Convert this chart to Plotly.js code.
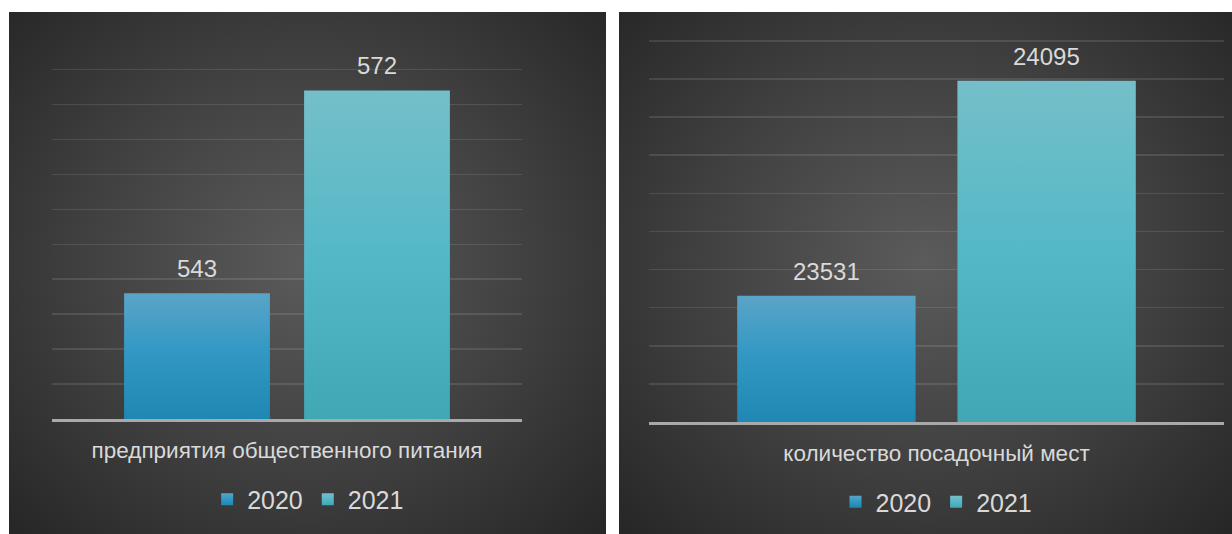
<!DOCTYPE html>
<html>
<head>
<meta charset="utf-8">
<script src="https://cdn.plot.ly/plotly-3.0.1.min.js"></script>
<style>
  html, body { margin: 0; padding: 0; background: #ffffff; width: 1232px; height: 534px; overflow: hidden; }
  .panel { position: absolute; background: radial-gradient(ellipse farthest-corner at 50% 48%, #5b5b5b 0%, #3f3f3f 55%, #262626 100%); }
  #left { left: 9px; top: 12px; width: 597px; height: 522px; }
  #right { left: 619px; top: 12px; width: 613px; height: 522px; }
</style>
</head>
<body>
<div id="left" class="panel"></div>
<div id="right" class="panel"></div>
<script>
// ---- data ----
const seriesNames = ['2020', '2021'];
const leftCategories = ['предприятия общественного питания'];
const leftValues2020 = [543];
const leftValues2021 = [572];
const rightCategories = ['количество посадочный мест'];
const rightValues2020 = [23531];
const rightValues2021 = [24095];
const leftAxisRange = [525, 575];
const leftAxisStep = 5;
const rightAxisRange = [23200, 24200];
const rightAxisStep = 100;

// ---- styles ----
const colors = ['#3093c0', '#54b4c2'];
const gradientStops = [
  [[0, '#5ba4c8'], [0.45, '#3399c4'], [1, '#1f87b3']],
  [[0, '#74bfc9'], [0.5, '#55b8c7'], [1, '#41a7b3']]
];
const textColor = '#d9d9d9';
const fontFamily = 'Liberation Sans, Arial, sans-serif';
const bargap = 0.234;
const bargroupgap = 0.19;
const rangePad = 0.1; // fraction of a step above the top gridline

let gradCount = 0;
function gradientFor(path, stops, defs, maxY) {
  const ns = 'http://www.w3.org/2000/svg';
  const bb = path.getBBox();
  const y1 = bb.y;
  const y2 = Math.max(y1 + 1, Math.min(bb.y + bb.height, maxY));
  const id = 'bargrad' + (gradCount++);
  const g = document.createElementNS(ns, 'linearGradient');
  g.setAttribute('id', id);
  g.setAttribute('gradientUnits', 'userSpaceOnUse');
  g.setAttribute('x1', String(bb.x)); g.setAttribute('x2', String(bb.x));
  g.setAttribute('y1', String(y1)); g.setAttribute('y2', String(y2));
  stops.forEach(s => {
    const st = document.createElementNS(ns, 'stop');
    st.setAttribute('offset', String(s[0]));
    st.setAttribute('stop-color', s[1]);
    g.appendChild(st);
  });
  defs.appendChild(g);
  path.style.fill = 'url(#' + id + ')';
}

function applyGradients(div) {
  const ns = 'http://www.w3.org/2000/svg';
  const plotH = div._fullLayout._size.h;
  div.querySelectorAll('svg.main-svg').forEach(svg => {
    const defs = document.createElementNS(ns, 'defs');
    svg.insertBefore(defs, svg.firstChild);
    svg.querySelectorAll('.barlayer .trace').forEach((t, i) => {
      t.querySelectorAll('.point path').forEach(p => gradientFor(p, gradientStops[i % 2], defs, plotH));
    });
    svg.querySelectorAll('.legend .traces').forEach((t, i) => {
      t.querySelectorAll('.legendpoints path').forEach(p => gradientFor(p, gradientStops[i % 2], defs, Infinity));
    });
  });
}

function makeChart(divId, cats, v2020, v2021, range, step, margin, legendX, legendOffsetPx) {
  const series = [v2020, v2021];
  const traces = series.map((vals, i) => ({
    type: 'bar',
    name: seriesNames[i],
    x: cats,
    y: vals,
    marker: { color: colors[i], line: { width: 0 } },
    hoverinfo: 'y+name'
  }));
  const groupW = 1 - bargap;
  const annotations = [];
  series.forEach((vals, i) => {
    vals.forEach((v, j) => {
      annotations.push({
        x: j - groupW / 2 + (groupW / 2) * (i + 0.5),
        y: v,
        xref: 'x', yref: 'y',
        text: String(v),
        showarrow: false,
        yanchor: 'bottom',
        yshift: 9,
        font: { family: fontFamily, size: 24, color: textColor }
      });
    });
  });
  const div = document.getElementById(divId);
  const plotH = div.clientHeight - margin.t - margin.b;
  const layout = {
    paper_bgcolor: 'rgba(0,0,0,0)',
    plot_bgcolor: 'rgba(0,0,0,0)',
    margin: margin,
    barmode: 'group',
    bargap: bargap,
    bargroupgap: bargroupgap,
    showlegend: true,
    legend: {
      orientation: 'h',
      x: legendX, xanchor: 'center',
      y: -legendOffsetPx / plotH, yanchor: 'middle',
      font: { family: fontFamily, size: 25, color: textColor },
      bgcolor: 'rgba(0,0,0,0)',
      itemwidth: 30,
      traceorder: 'normal'
    },
    xaxis: {
      type: 'category',
      showgrid: false,
      showline: true,
      linecolor: '#a9a9a9',
      linewidth: 2.5,
      ticks: '',
      ticklabelstandoff: 9,
      tickfont: { family: fontFamily, size: 22.5, color: textColor },
      fixedrange: true
    },
    yaxis: {
      range: [range[0], range[1] + step * rangePad],
      dtick: step,
      tick0: range[0],
      showticklabels: false,
      showgrid: true,
      gridcolor: 'rgba(255,255,255,0.11)',
      gridwidth: 1.5,
      zeroline: false,
      showline: false,
      ticks: '',
      fixedrange: true
    },
    annotations: annotations,
    font: { family: fontFamily, color: textColor }
  };
  return Plotly.newPlot(divId, traces, layout, { displayModeBar: false, staticPlot: true })
    .then(() => applyGradients(div));
}

makeChart('left', leftCategories, leftValues2020, leftValues2021, leftAxisRange, leftAxisStep,
  { l: 43, r: 84, t: 54, b: 113 }, 0.545, 81);
makeChart('right', rightCategories, rightValues2020, rightValues2021, rightAxisRange, rightAxisStep,
  { l: 30, r: 8, t: 25, b: 112 }, 0.5, 80);
</script>
</body>
</html>
